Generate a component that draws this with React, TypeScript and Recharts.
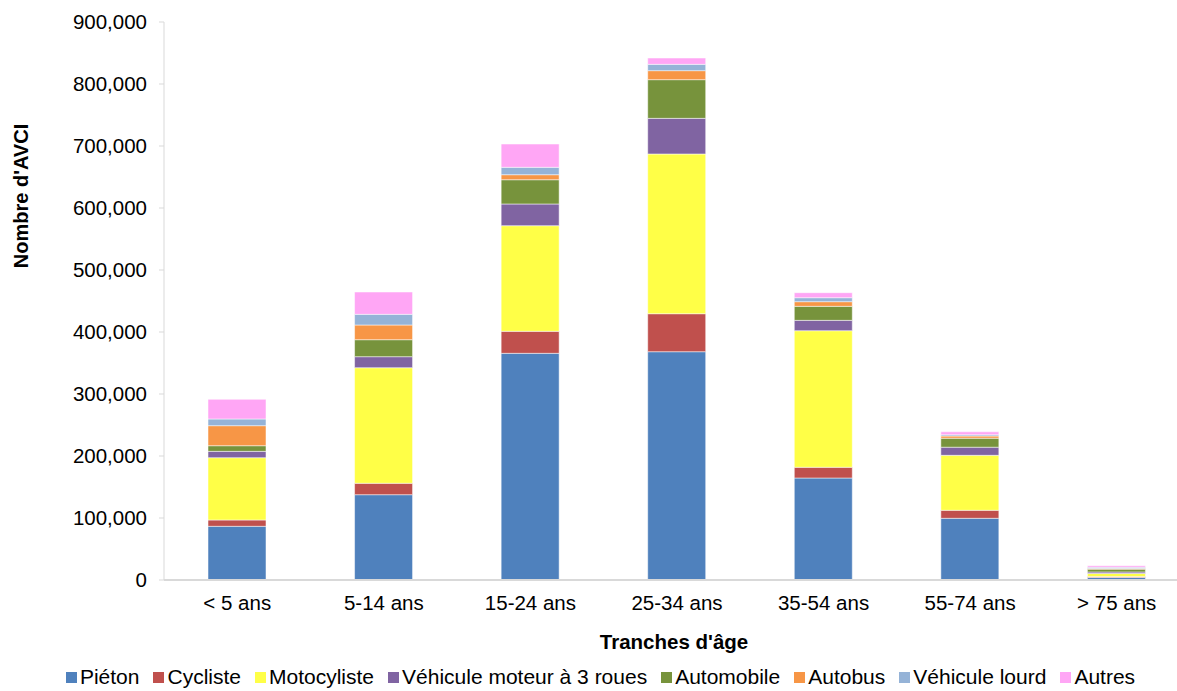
import { Bar, BarChart, Label, Legend, XAxis, YAxis } from 'recharts';

const categories = ['< 5 ans', '5-14 ans', '15-24 ans', '25-34 ans', '35-54 ans', '55-74 ans', '> 75 ans'];

const pieton = [86600, 137600, 365600, 368200, 164500, 99500, 4000];
const cycliste = [10200, 18400, 35500, 61300, 17300, 12900, 1500];
const motocycliste = [100500, 186400, 170400, 257600, 220300, 88700, 5000];
const troisRoues = [10200, 17800, 35000, 57500, 16700, 13100, 2500];
const automobile = [9100, 27400, 39100, 62400, 22600, 14500, 4500];
const autobus = [32300, 23700, 8100, 14500, 7500, 3500, 1000];
const vehiculeLourd = [10800, 17200, 11900, 10200, 6400, 2000, 2000];
const autres = [31700, 36000, 37600, 10200, 8100, 4800, 2500];

const yTicks = [0, 100000, 200000, 300000, 400000, 500000, 600000, 700000, 800000, 900000];

const series = [
  { key: 'pieton', name: 'Piéton', color: '#4f81bd', values: pieton },
  { key: 'cycliste', name: 'Cycliste', color: '#c0504d', values: cycliste },
  { key: 'moto', name: 'Motocyliste', color: '#ffff47', values: motocycliste },
  { key: 'troisRoues', name: 'Véhicule moteur à 3 roues', color: '#8064a2', values: troisRoues },
  { key: 'auto', name: 'Automobile', color: '#77933c', values: automobile },
  { key: 'bus', name: 'Autobus', color: '#f79646', values: autobus },
  { key: 'lourd', name: 'Véhicule lourd', color: '#95b3d7', values: vehiculeLourd },
  { key: 'autres', name: 'Autres', color: '#ffa6f5', values: autres },
];

const data = categories.map((name, i) => {
  const row: Record<string, string | number> = { name };
  series.forEach((s) => {
    row[s.key] = s.values[i];
  });
  return row;
});

const font = '"Liberation Sans", Arial, sans-serif';

function LegendRow() {
  return (
    <div
      style={{
        height: 30,
        display: 'flex',
        alignItems: 'center',
        justifyContent: 'center',
        position: 'relative',
        top: 1,
        left: 19,
        fontFamily: font,
        fontSize: 21,
        lineHeight: '22px',
        color: '#000',
        whiteSpace: 'nowrap',
      }}
    >
      {series.map((s) => (
        <span key={s.key} style={{ display: 'inline-flex', alignItems: 'center', marginRight: 14 }}>
          <span style={{ width: 11, height: 11, background: s.color, marginRight: 3, display: 'inline-block' }} />
          {s.name}
        </span>
      ))}
    </div>
  );
}

export default function App() {
  return (
    <div
      style={{
        position: 'absolute',
        left: 0,
        top: 0,
        width: 1177,
        height: 691,
        overflow: 'hidden',
        background: '#fff',
        fontFamily: font,
      }}
    >
      <BarChart width={1190} height={691} data={data} margin={{ top: 22, right: 0, left: 0, bottom: 0 }} barSize={58}>
        <XAxis
          dataKey="name"
          height={81}
          tickLine={false}
          tickSize={6}
          tickMargin={9}
          axisLine={{ stroke: '#d9d9d9', strokeWidth: 2 }}
          tick={{ fill: '#000', fontSize: 20.5, fontFamily: font }}
        >
          <Label
            content={({ viewBox }: any) => (
              <text
                x={viewBox.x + viewBox.width / 2 - 3}
                y={viewBox.y + 61}
                textAnchor="middle"
                dominantBaseline="central"
                fontFamily={font}
                fontSize={20.5}
                fontWeight="bold"
                fill="#000"
              >
                Tranches d'âge
              </text>
            )}
          />
        </XAxis>
        <YAxis
          width={164}
          domain={[0, 900000]}
          ticks={yTicks}
          interval={0}
          tickSize={5}
          tickMargin={12}
          tickLine={{ stroke: '#d9d9d9' }}
          axisLine={{ stroke: '#d9d9d9' }}
          tickFormatter={(v: number) => v.toLocaleString('en-US')}
          tick={{ fill: '#000', fontSize: 20.5, fontFamily: font }}
        >
          <Label
            content={() => (
              <text
                x={21}
                y={196}
                transform="rotate(-90 21 196)"
                textAnchor="middle"
                dominantBaseline="central"
                fontFamily={font}
                fontSize={20}
                fontWeight="bold"
                fill="#000"
              >
                Nombre d'AVCI
              </text>
            )}
          />
        </YAxis>
        <Legend verticalAlign="bottom" content={() => <LegendRow />} wrapperStyle={{ left: 0, width: 1177 }} />
        {series.map((s) => (
          <Bar
            key={s.key}
            dataKey={s.key}
            name={s.name}
            stackId="a"
            fill={s.color}
            stroke="#ffffff"
            strokeOpacity={0.5}
            strokeWidth={1}
            isAnimationActive={false}
          />
        ))}
      </BarChart>
    </div>
  );
}
